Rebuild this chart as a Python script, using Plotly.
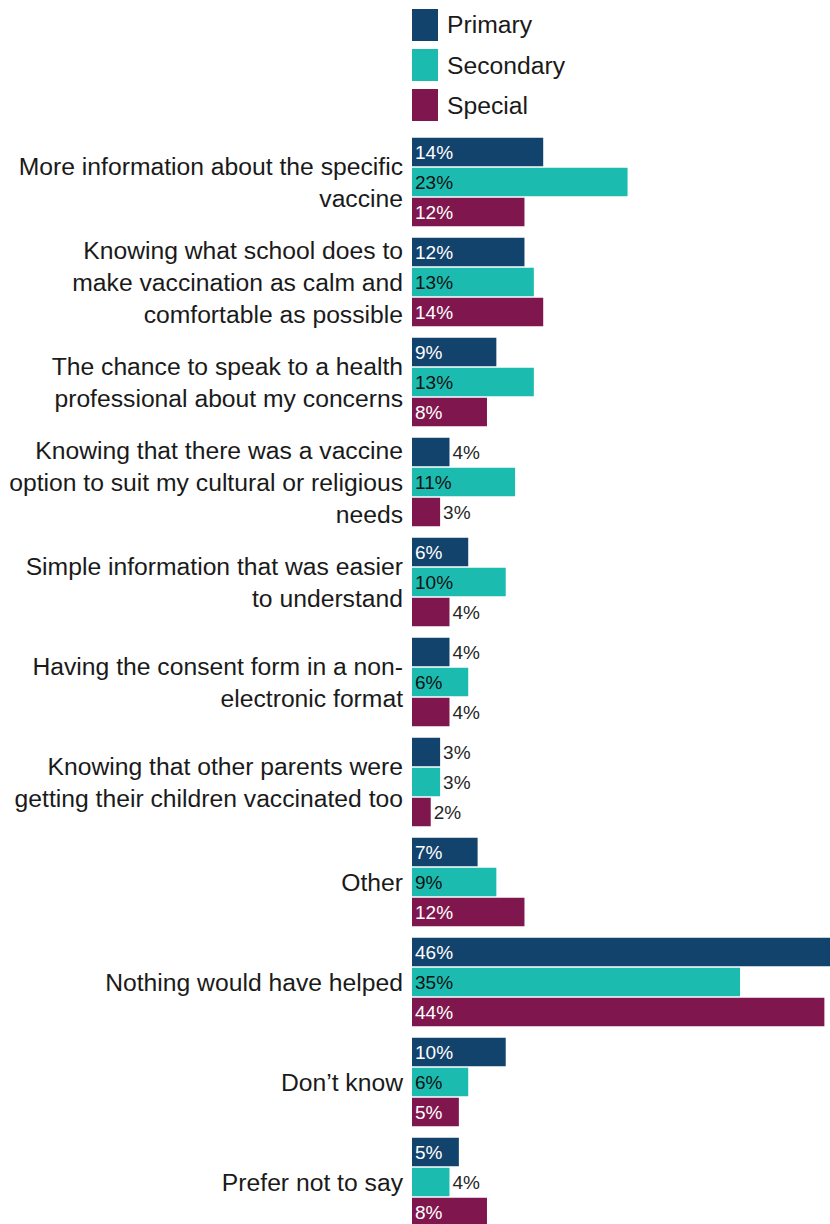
import plotly.graph_objects as go

# Reasons that would have helped parents, by school type (% of respondents)
categories = [
    "More information about the specific<br>vaccine",
    "Knowing what school does to<br>make vaccination as calm and<br>comfortable as possible",
    "The chance to speak to a health<br>professional about my concerns",
    "Knowing that there was a vaccine<br>option to suit my cultural or religious<br>needs",
    "Simple information that was easier<br>to understand",
    "Having the consent form in a non-<br>electronic format",
    "Knowing that other parents were<br>getting their children vaccinated too",
    "Other",
    "Nothing would have helped",
    "Don\u2019t know",
    "Prefer not to say",
]
primary = [14, 12, 9, 4, 6, 4, 3, 7, 46, 10, 5]
secondary = [23, 13, 13, 11, 10, 6, 3, 9, 35, 6, 4]
special = [12, 14, 8, 3, 4, 4, 2, 12, 44, 5, 8]

series_names = ["Primary", "Secondary", "Special"]
series_values = [primary, secondary, special]
series_colors = ["#12436D", "#1CBBB0", "#7F174E"]
inside_text_colors = ["#FFFFFF", "#111111", "#FFFFFF"]

FONT = "Liberation Sans, Arial, sans-serif"
W, H = 830, 1224
L, T = 412, 132          # plot area left / top edge in pixels
PW, PH = W - L, H - T    # plot area size


def px_x(x):
    return (x - L) / PW


def px_y(y):
    return (H - y) / PH


fig = go.Figure()
for name, vals, color, tcol in zip(series_names, series_values, series_colors, inside_text_colors):
    fig.add_trace(go.Bar(
        name=name,
        y=categories,
        x=vals,
        orientation="h",
        marker=dict(color=color, line=dict(width=0)),
        text=[f"{v}%" for v in vals],
        textposition=["inside" if v >= 5 else "outside" for v in vals],
        insidetextanchor="start",
        textangle=0,
        constraintext="none",
        insidetextfont=dict(family=FONT, size=19, color=tcol),
        outsidetextfont=dict(family=FONT, size=19, color="#262626"),
        cliponaxis=True,
        showlegend=False,
        hoverinfo="skip",
    ))

# Legend drawn as large swatches with labels above the bars
shapes = []
annotations = []
for i, (name, color) in enumerate(zip(series_names, series_colors)):
    top = 9 + 40 * i
    shapes.append(dict(
        type="rect", xref="paper", yref="paper",
        x0=px_x(412), x1=px_x(438), y0=px_y(top + 32), y1=px_y(top),
        fillcolor=color, line=dict(width=0),
    ))
    annotations.append(dict(
        xref="paper", yref="paper", x=px_x(445), y=px_y(top + 16),
        text=name, showarrow=False, xanchor="left", yanchor="middle",
        font=dict(family=FONT, size=24.7, color="#1a1a1a"),
    ))

n = len(categories)
fig.update_layout(
    width=W, height=H,
    margin=dict(l=L, r=0, t=T, b=0, pad=0),
    paper_bgcolor="white", plot_bgcolor="white",
    barmode="group", bargap=0.1, bargroupgap=0.05,
    font=dict(family=FONT, size=24.7, color="#1a1a1a"),
    xaxis=dict(range=[0, 44.6], visible=False, fixedrange=True),
    yaxis=dict(
        range=[n - 1 + 0.5 - (n * 100 - PH) / 100, -0.5],
        showgrid=False, zeroline=False, showline=False, ticks="",
        ticklabelstandoff=8,
        tickfont=dict(family=FONT, size=24.7, color="#1a1a1a"),
        fixedrange=True,
    ),
    shapes=shapes,
    annotations=annotations,
)

fig.write_html("out.html")
